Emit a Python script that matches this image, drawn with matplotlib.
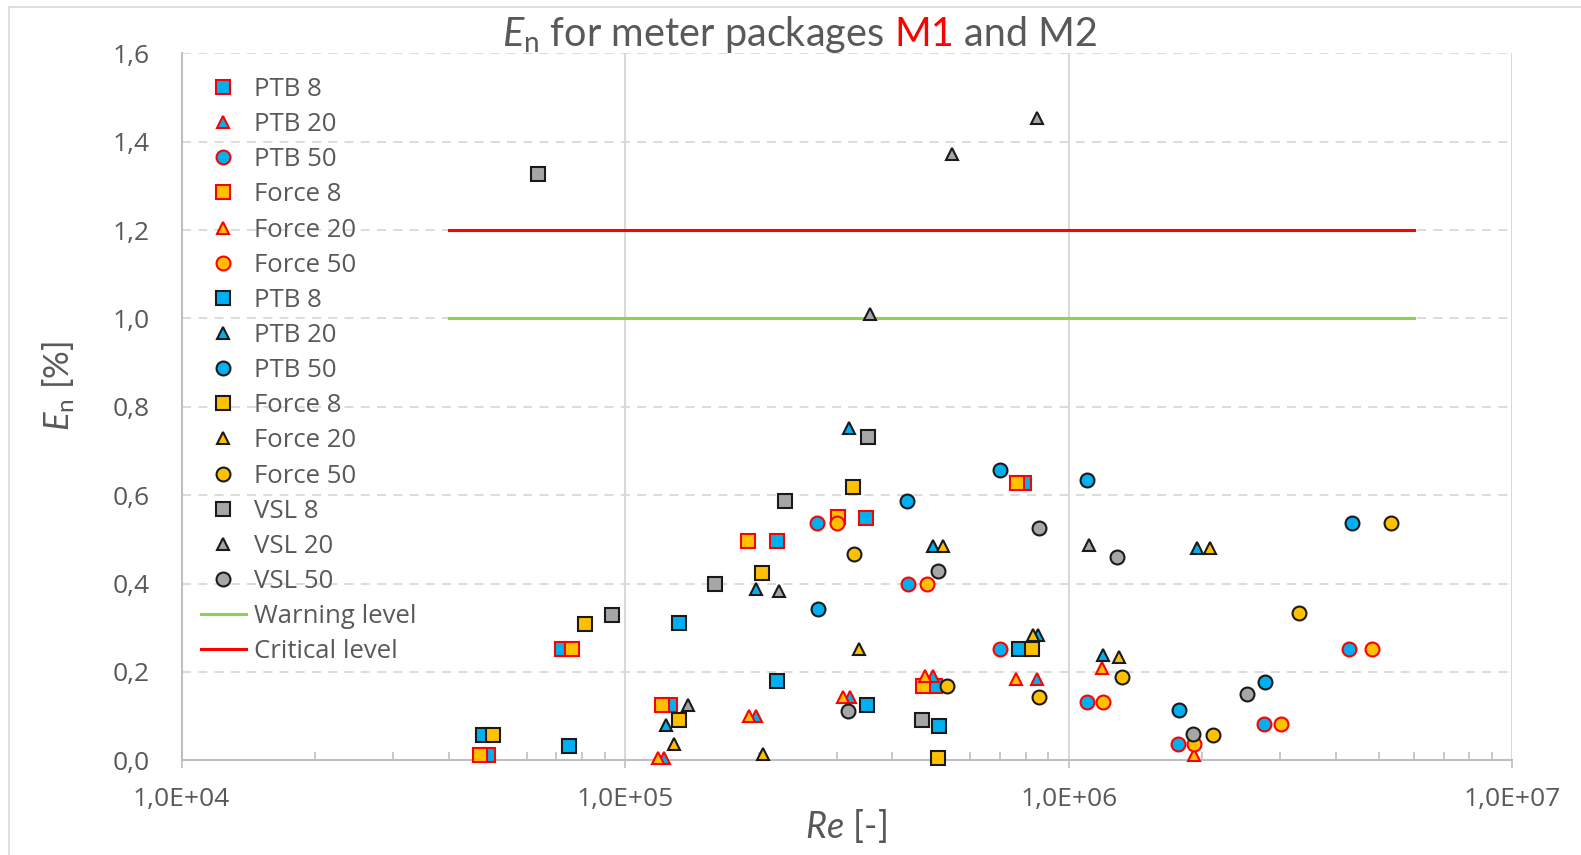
import matplotlib
matplotlib.use("Agg")
import matplotlib.pyplot as plt
from matplotlib.ticker import FixedLocator, FixedFormatter, NullFormatter
from matplotlib.lines import Line2D

W, H, DPI = 1581, 855, 100

plt.rcParams['mathtext.fontset'] = 'custom'
plt.rcParams['mathtext.rm'] = 'Lato'
plt.rcParams['mathtext.it'] = 'Lato:italic'
plt.rcParams['mathtext.bf'] = 'Lato:bold'

# ---- meter package M1 (red marker outline) ----
re_ptb8_m1 = [4.92e4, 7.19e4, 1.263e5, 2.20e5, 3.49e5, 5.00e5, 7.91e5]
en_ptb8_m1 = [0.012, 0.251, 0.125, 0.497, 0.549, 0.168, 0.628]
re_ptb20_m1 = [1.224e5, 1.973e5, 3.214e5, 4.952e5, 8.47e5]
en_ptb20_m1 = [0.004, 0.099, 0.144, 0.191, 0.183]
re_ptb50_m1 = [2.70e5, 4.33e5, 7.00e5, 1.098e6, 1.767e6, 2.756e6, 4.29e6]
en_ptb50_m1 = [0.538, 0.400, 0.251, 0.131, 0.036, 0.081, 0.251]
re_force8_m1 = [4.71e4, 7.58e4, 1.209e5, 1.895e5, 3.024e5, 4.70e5, 7.625e5]
en_force8_m1 = [0.012, 0.251, 0.125, 0.497, 0.550, 0.168, 0.628]
re_force20_m1 = [1.188e5, 1.905e5, 3.095e5, 4.744e5, 7.596e5, 1.19e6, 1.919e6]
en_force20_m1 = [0.004, 0.099, 0.144, 0.191, 0.183, 0.208, 0.012]
re_force50_m1 = [3.0e5, 4.786e5, 1.197e6, 1.919e6, 3.005e6, 4.82e6]
en_force50_m1 = [0.538, 0.400, 0.131, 0.036, 0.081, 0.251]

# ---- meter package M2 (black marker outline) ----
re_ptb8_m2 = [4.79e4, 7.485e4, 1.325e5, 2.197e5, 3.505e5, 5.108e5, 7.741e5]
en_ptb8_m2 = [0.057, 0.032, 0.311, 0.179, 0.125, 0.078, 0.251]
re_ptb20_m2 = [1.237e5, 1.973e5, 3.202e5, 4.952e5, 8.543e5, 1.197e6, 1.944e6]
en_ptb20_m2 = [0.080, 0.388, 0.751, 0.486, 0.283, 0.238, 0.480]
re_ptb50_m2 = [2.726e5, 4.327e5, 7.005e5, 1.10e6, 1.776e6, 2.77e6, 4.345e6]
en_ptb50_m2 = [0.342, 0.587, 0.657, 0.634, 0.114, 0.176, 0.538]
re_force8_m2 = [5.045e4, 8.12e4, 1.325e5, 2.032e5, 3.259e5, 5.082e5, 8.254e5]
en_force8_m2 = [0.057, 0.308, 0.091, 0.423, 0.618, 0.004, 0.251]
re_force20_m2 = [1.291e5, 2.049e5, 3.368e5, 5.20e5, 8.323e5, 1.299e6, 2.082e6]
en_force20_m2 = [0.037, 0.014, 0.251, 0.486, 0.283, 0.233, 0.480]
re_force50_m2 = [3.286e5, 5.309e5, 8.57e5, 1.321e6, 2.111e6, 3.305e6, 5.318e6]
en_force50_m2 = [0.467, 0.168, 0.142, 0.189, 0.056, 0.333, 0.538]
re_vsl8 = [6.377e4, 9.33e4, 1.594e5, 2.293e5, 3.535e5, 4.663e5]
en_vsl8 = [1.326, 0.329, 0.400, 0.587, 0.731, 0.091]
re_vsl20 = [1.388e5, 2.226e5, 3.568e5, 5.452e5, 8.46e5, 1.111e6]
en_vsl20 = [0.125, 0.384, 1.011, 1.372, 1.454, 0.488]
re_vsl50 = [3.186e5, 5.066e5, 8.55e5, 1.286e6, 1.91e6, 2.519e6]
en_vsl50 = [0.111, 0.428, 0.525, 0.459, 0.059, 0.150]

# ---- limit lines ----
level_re = [4.0e4, 6.0e6]
warning_level = 1.0
critical_level = 1.2

# ---- axes ----
x_ticks = [1e4, 1e5, 1e6, 1e7]
x_tick_labels = ["1,0E+04", "1,0E+05", "1,0E+06", "1,0E+07"]
y_ticks = [0.0, 0.2, 0.4, 0.6, 0.8, 1.0, 1.2, 1.4, 1.6]
y_tick_labels = ["0,0", "0,2", "0,4", "0,6", "0,8", "1,0", "1,2", "1,4", "1,6"]

BLUE = "#00B0F0"
YELLOW = "#FFC000"
GREY = "#A6A6A6"
RED = "#FF0000"
DARK = "#1A1A1A"
TEXT = "#595959"
GRID = "#D9D9D9"

series = [
    ("PTB 8", re_ptb8_m1, en_ptb8_m1, "s", BLUE, RED),
    ("PTB 20", re_ptb20_m1, en_ptb20_m1, "^", BLUE, RED),
    ("PTB 50", re_ptb50_m1, en_ptb50_m1, "o", BLUE, RED),
    ("Force 8", re_force8_m1, en_force8_m1, "s", YELLOW, RED),
    ("Force 20", re_force20_m1, en_force20_m1, "^", YELLOW, RED),
    ("Force 50", re_force50_m1, en_force50_m1, "o", YELLOW, RED),
    ("PTB 8", re_ptb8_m2, en_ptb8_m2, "s", BLUE, DARK),
    ("PTB 20", re_ptb20_m2, en_ptb20_m2, "^", BLUE, DARK),
    ("PTB 50", re_ptb50_m2, en_ptb50_m2, "o", BLUE, DARK),
    ("Force 8", re_force8_m2, en_force8_m2, "s", YELLOW, DARK),
    ("Force 20", re_force20_m2, en_force20_m2, "^", YELLOW, DARK),
    ("Force 50", re_force50_m2, en_force50_m2, "o", YELLOW, DARK),
    ("VSL 8", re_vsl8, en_vsl8, "s", GREY, DARK),
    ("VSL 20", re_vsl20, en_vsl20, "^", GREY, DARK),
    ("VSL 50", re_vsl50, en_vsl50, "o", GREY, DARK),
]
marker_size = {"s": 10, "^": 9, "o": 10}

fig = plt.figure(figsize=(W / DPI, H / DPI), dpi=DPI)
fig.patch.set_facecolor("white")

# thin outer chart frame
fig.add_artist(Line2D([9 / W, 9 / W], [0, 1 - 7 / H], transform=fig.transFigure,
                      color=GRID, lw=1.2))
fig.add_artist(Line2D([9 / W, 1], [1 - 7 / H, 1 - 7 / H], transform=fig.transFigure,
                      color=GRID, lw=1.2))

ax_l, ax_r, ax_t, ax_b = 181.5, 1512.4, 53.4, 760.2
ax = fig.add_axes([ax_l / W, 1 - ax_b / H, (ax_r - ax_l) / W, (ax_b - ax_t) / H])
ax.set_xscale("log")
ax.set_xlim(x_ticks[0], x_ticks[-1])
ax.set_ylim(y_ticks[0], y_ticks[-1])

ax.xaxis.set_major_locator(FixedLocator(x_ticks))
ax.xaxis.set_major_formatter(FixedFormatter(x_tick_labels))
minor = [m * 10 ** e for e in range(4, 7) for m in range(2, 10)]
ax.xaxis.set_minor_locator(FixedLocator(minor))
ax.xaxis.set_minor_formatter(NullFormatter())
ax.yaxis.set_major_locator(FixedLocator(y_ticks))
ax.yaxis.set_major_formatter(FixedFormatter(y_tick_labels))

for t in y_ticks[1:]:
    ax.axhline(t, color=GRID, lw=1.3, ls=(0, (5, 4)), zorder=0.5)
for t in x_ticks[1:]:
    ax.axvline(t, color=GRID, lw=1.5, zorder=0.5)

for s in ("top", "right"):
    ax.spines[s].set_visible(False)
for s in ("left", "bottom"):
    ax.spines[s].set_color("#BFBFBF")
    ax.spines[s].set_linewidth(1.5)

ax.tick_params(axis="x", which="major", direction="out", length=6, width=1.2,
               color="#BFBFBF", pad=13, labelsize=19, labelcolor=TEXT)
ax.tick_params(axis="x", which="minor", direction="in", length=6, width=1.2,
               color="#BFBFBF")
ax.tick_params(axis="y", which="major", length=0, pad=23, labelsize=19,
               labelcolor=TEXT)
for lab in ax.get_xticklabels() + ax.get_yticklabels():
    lab.set_fontfamily("Open Sans")

handles = []
for label, xs, ys, mk, fc, ec in series:
    h, = ax.plot(xs, ys, ls="none", marker=mk, ms=marker_size[mk], mfc=fc, mec=ec,
                 mew=1.5, label=label, clip_on=False, zorder=3)
    handles.append(h)

hw, = ax.plot(level_re, [warning_level] * 2, color="#92D050", lw=2.2,
              label="Warning level", zorder=2)
hc, = ax.plot(level_re, [critical_level] * 2, color=RED, lw=2.2,
              label="Critical level", zorder=2)
handles += [hw, hc]

leg = ax.legend(handles=handles, loc="upper left",
                bbox_to_anchor=(201 / W, 1 - 77 / H), bbox_transform=fig.transFigure,
                frameon=False, prop={"family": "Open Sans", "size": 18.5},
                labelcolor=TEXT, handlelength=1.75, handletextpad=0.3,
                labelspacing=0.395, borderpad=0, borderaxespad=0, numpoints=1)

# axis titles
fig.text(846 / W, 1 - 826 / H, "$Re$ [-]", ha="center", va="center",
         fontsize=26, color=TEXT, family="Lato")
fig.text(59 / W, 1 - 386 / H, "$E_\\mathrm{n}$ [%]", ha="center", va="center",
         rotation=90, fontsize=25, color=TEXT, family="Lato")

# two-colour chart title, centred as a whole
TITLE_SIZE = 28.5
title_parts = [("$E_\\mathrm{n}$ for meter packages", TEXT),
               ("M1", RED),
               ("and M2", TEXT)]
fig.canvas.draw()
renderer = fig.canvas.get_renderer()


def text_width(s):
    t = fig.text(0, 0, s, fontsize=TITLE_SIZE, family="Lato")
    w = t.get_window_extent(renderer).width
    t.remove()
    return w


space = text_width("M M") - text_width("MM")
title_texts = [fig.text(0, 1 - 46 / H, s, color=c, fontsize=TITLE_SIZE, family="Lato",
                        ha="left", va="baseline") for s, c in title_parts]
widths = [t.get_window_extent(renderer).width for t in title_texts]
x0 = 800 - (sum(widths) + space * (len(widths) - 1)) / 2
for t, w in zip(title_texts, widths):
    t.set_x(x0 / W)
    x0 += w + space

fig.savefig("out.png", dpi=DPI)
